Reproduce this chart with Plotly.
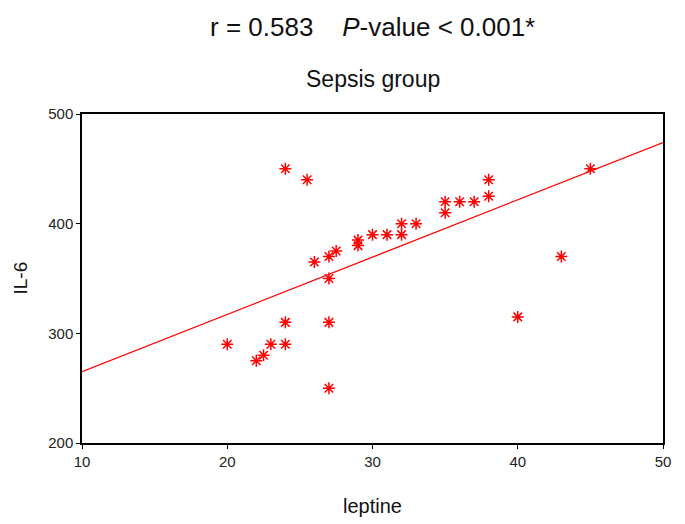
import plotly.graph_objects as go

leptine = [20, 22, 22.5, 23, 24, 24, 24, 25.5, 26, 27, 27, 27, 27, 27.5, 29, 29,
           30, 31, 32, 32, 33, 35, 35, 36, 37, 38, 38, 40, 43, 45]
il6 = [290, 275, 280, 290, 290, 310, 450, 440, 365, 370, 350, 310, 250, 375, 385, 380,
       390, 390, 400, 390, 400, 420, 410, 420, 420, 440, 425, 315, 370, 450]

fit_x = [10, 50]
fit_y = [265, 474]

x_ticks = [10, 20, 30, 40, 50]
y_ticks = [200, 300, 400, 500]

FONT = "Liberation Sans, Arial, sans-serif"
RED = "#ff0000"

fig = go.Figure()
fig.add_trace(go.Scatter(x=fit_x, y=fit_y, mode="lines",
                         line=dict(color=RED, width=1.3), hoverinfo="skip"))
fig.add_trace(go.Scatter(x=leptine, y=il6, mode="markers",
                         marker=dict(symbol="asterisk-open", size=10, color=RED,
                                     line=dict(color=RED, width=1.5))))

axis_common = dict(showgrid=False, zeroline=False, showline=True, linecolor="black",
                   linewidth=1.5, mirror=True, ticks="outside", ticklen=4,
                   tickwidth=1.2, tickcolor="black", automargin=False,
                   tickfont=dict(family=FONT, size=15, color="#222"))

fig.update_xaxes(range=[10, 50], tickvals=x_ticks, **axis_common)
fig.update_yaxes(range=[200, 500], tickvals=y_ticks, **axis_common)

fig.update_layout(
    width=677, height=516,
    margin=dict(l=74, r=22, t=106, b=81),
    paper_bgcolor="white", plot_bgcolor="white",
    showlegend=False,
    font=dict(family=FONT, color="#111"),
    annotations=[
        dict(text="r = 0.583&nbsp;&nbsp;&nbsp;&nbsp;<i>P</i>-value &lt; 0.001*",
             xref="paper", yref="paper",
             x=0.5, y=1, yshift=87, showarrow=False, xanchor="center", yanchor="middle",
             font=dict(family=FONT, size=26, color="#111")),
        dict(text="Sepsis group", xref="paper", yref="paper",
             x=0.5, y=1, yshift=35, showarrow=False, xanchor="center", yanchor="middle",
             font=dict(family=FONT, size=23, color="#111")),
        dict(text="leptine", xref="paper", yref="paper",
             x=0.5, y=0, yshift=-63, showarrow=False, xanchor="center", yanchor="middle",
             font=dict(family=FONT, size=20, color="#111")),
        dict(text="IL-6", xref="paper", yref="paper", textangle=-90,
             x=0, xshift=-62, y=0.5, showarrow=False, xanchor="center", yanchor="middle",
             font=dict(family=FONT, size=19, color="#111")),
    ],
)

fig.write_html("out.html")
